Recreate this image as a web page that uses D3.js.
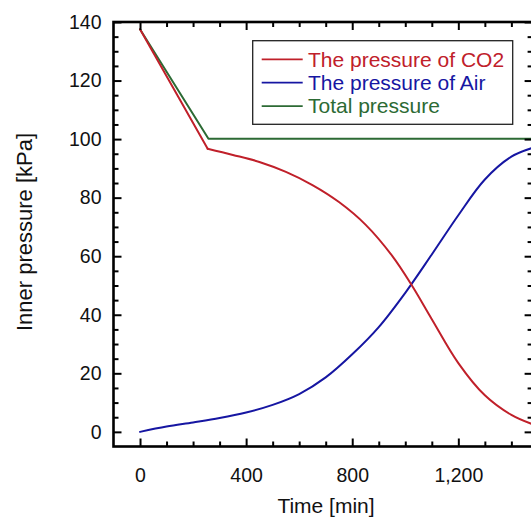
<!DOCTYPE html>
<html>
<head>
<meta charset="utf-8">
<script src="https://cdn.jsdelivr.net/npm/d3@7"></script>
<style>
  html, body { margin: 0; padding: 0; background: #fff; }
  svg { display: block; font-family: "Liberation Sans", Arial, sans-serif; }
</style>
</head>
<body>
<svg id="chart" width="531" height="518"></svg>
<script>
// ---- data ----
// CO2: filling phase (straight) then decay phase (smooth)
const co2FillTime   = [0, 255];
const co2FillValues = [137.5, 96.7];
const co2Time   = [255, 350, 450, 550, 650, 750, 850, 950, 1025, 1100, 1200, 1300, 1400, 1480];
const co2Values = [96.7, 94.6, 92.2, 88.8, 84.3, 78.5, 70.8, 60.2, 50.0, 38.5, 23.5, 12.5, 5.8, 2.6];

const airTime   = [0, 100, 200, 300, 400, 500, 600, 700, 800, 900, 1000, 1100, 1200, 1300, 1400, 1480];
const airValues = [0, 1.8, 3.2, 4.7, 6.6, 9.2, 12.9, 18.6, 26.5, 35.8, 47.5, 60.6, 74.0, 86.2, 94.0, 97.0];

const totalTime   = [0, 258, 1480];
const totalValues = [137.5, 100.1, 100.1];

const xTicks = [0, 400, 800, 1200];
const xTickLabels = ["0", "400", "800", "1,200"];
const yTicks = [0, 20, 40, 60, 80, 100, 120, 140];

const seriesNames = ["The pressure of CO2", "The pressure of Air", "Total pressure"];
const seriesColors = ["#c0202a", "#1616a2", "#2c6a34"];

// ---- layout ----
const svg = d3.select("#chart");
const x = d3.scaleLinear().domain([-100, 1480]).range([113.5, 532.6]);
const y = d3.scaleLinear().domain([-5, 140]).range([446.5, 22]);

const xMinor = d3.range(0, 1500, 100);
const yMinor = d3.range(0, 141, 5);

svg.append("clipPath").attr("id", "clip")
  .append("rect").attr("x", x(-100)).attr("y", y(140))
  .attr("width", x(1480) - x(-100)).attr("height", y(-5) - y(140));

const zip = (t, v) => t.map((d, i) => [d, v[i]]);
const smooth = d3.line().curve(d3.curveCatmullRom.alpha(0.5)).x(d => x(d[0])).y(d => y(d[1]));
const straight = d3.line().curve(d3.curveLinear).x(d => x(d[0])).y(d => y(d[1]));

const linesG = svg.append("g").attr("clip-path", "url(#clip)");
function addPath(d, color) {
  linesG.append("path").attr("d", d).attr("fill", "none")
    .attr("stroke", color).attr("stroke-width", 2)
    .attr("stroke-linejoin", "round").attr("stroke-linecap", "round");
}
addPath(straight(zip(totalTime, totalValues)), seriesColors[2]);
addPath(smooth(zip(airTime, airValues)), seriesColors[1]);
addPath(straight(zip(co2FillTime, co2FillValues)), seriesColors[0]);
addPath(smooth(zip(co2Time, co2Values)), seriesColors[0]);

// ---- axes ----
function styleAxis(g) {
  g.select(".domain").remove();
  g.selectAll("line").attr("stroke", "#000").attr("stroke-width", 2);
  g.selectAll("text").attr("font-size", "19.5px").attr("fill", "#111")
    .attr("font-family", "'Liberation Sans', Arial, sans-serif");
}
// bottom
svg.append("g").attr("transform", `translate(0,${y(-5)})`)
  .call(d3.axisBottom(x).tickValues(xTicks).tickSizeInner(-8).tickSizeOuter(0).tickPadding(22)
    .tickFormat((d, i) => xTickLabels[i]))
  .call(styleAxis);
svg.append("g").attr("transform", `translate(0,${y(-5)})`)
  .call(d3.axisBottom(x).tickValues(xMinor.filter(d => d % 400 !== 0)).tickSize(-5).tickFormat(""))
  .call(styleAxis);
// top
svg.append("g").attr("transform", `translate(0,${y(140)})`)
  .call(d3.axisTop(x).tickValues(xTicks).tickSize(-8).tickFormat(""))
  .call(styleAxis);
svg.append("g").attr("transform", `translate(0,${y(140)})`)
  .call(d3.axisTop(x).tickValues(xMinor.filter(d => d % 400 !== 0)).tickSize(-5).tickFormat(""))
  .call(styleAxis);
// left
svg.append("g").attr("transform", `translate(${x(-100)},0)`)
  .call(d3.axisLeft(y).tickValues(yTicks).tickSize(-8).tickPadding(12).tickFormat(d3.format("d")))
  .call(styleAxis);
svg.append("g").attr("transform", `translate(${x(-100)},0)`)
  .call(d3.axisLeft(y).tickValues(yMinor.filter(d => d % 20 !== 0)).tickSize(-5).tickFormat(""))
  .call(styleAxis);
// right
svg.append("g").attr("transform", `translate(${x(1480)},0)`)
  .call(d3.axisRight(y).tickValues(yTicks).tickSize(-8).tickFormat(""))
  .call(styleAxis);
svg.append("g").attr("transform", `translate(${x(1480)},0)`)
  .call(d3.axisRight(y).tickValues(yMinor.filter(d => d % 20 !== 0)).tickSize(-5).tickFormat(""))
  .call(styleAxis);

// frame
svg.append("rect").attr("x", x(-100)).attr("y", y(140))
  .attr("width", x(1480) - x(-100)).attr("height", y(-5) - y(140))
  .attr("fill", "none").attr("stroke", "#000").attr("stroke-width", 2.6);

// titles
svg.append("text").attr("x", 326).attr("y", 513).attr("text-anchor", "middle")
  .attr("font-size", "21px").attr("fill", "#111").text("Time [min]");
svg.append("text").attr("transform", "translate(32,232) rotate(-90)").attr("text-anchor", "middle")
  .attr("font-size", "22px").attr("fill", "#111").text("Inner pressure [kPa]");

// legend
const lg = svg.append("g");
lg.append("rect").attr("x", 252.7).attr("y", 40.7).attr("width", 260).attr("height", 83.6)
  .attr("fill", "#fff").attr("stroke", "#222").attr("stroke-width", 1.3);
seriesNames.forEach((name, i) => {
  const cy = 59.3 + i * 23.4;
  lg.append("line").attr("x1", 261.7).attr("x2", 302.7).attr("y1", cy).attr("y2", cy)
    .attr("stroke", seriesColors[i]).attr("stroke-width", 1.8);
  lg.append("text").attr("x", 308).attr("y", cy + 7.2).attr("font-size", "21px")
    .attr("fill", seriesColors[i]).text(name);
});
</script>
</body>
</html>
